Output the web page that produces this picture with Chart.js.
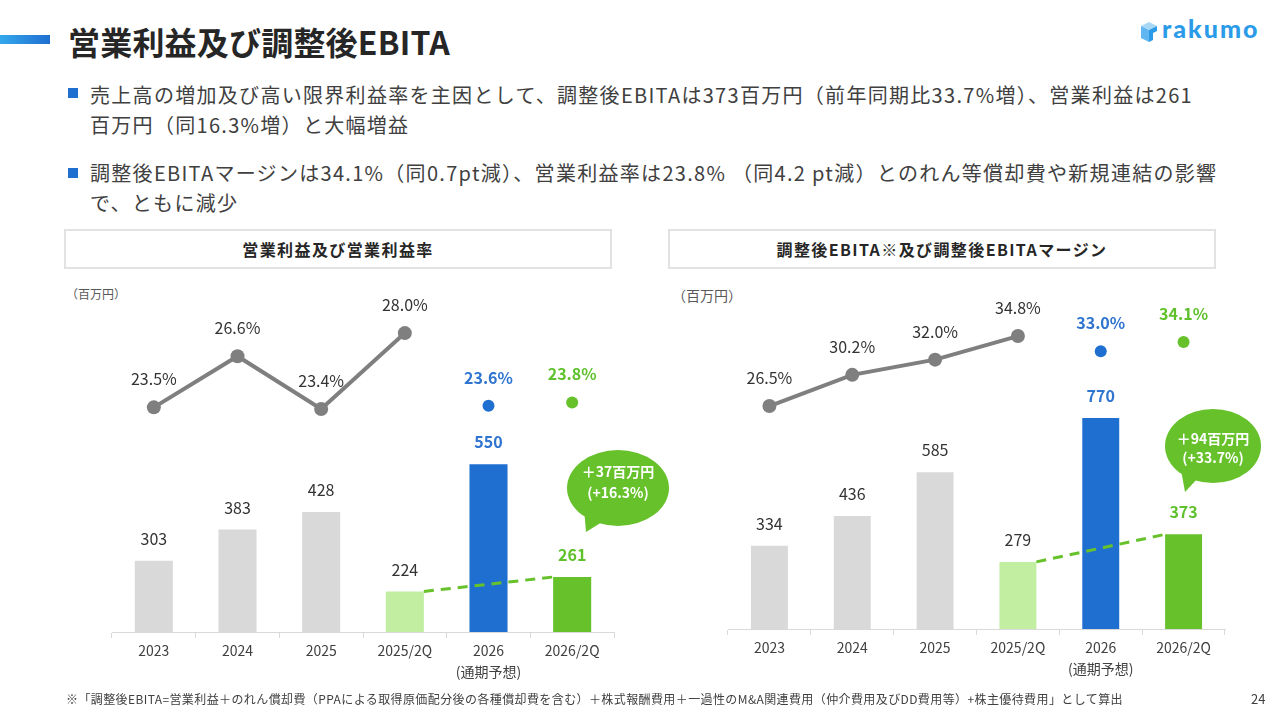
<!DOCTYPE html>
<html lang="ja">
<head>
<meta charset="utf-8">
<script src="https://cdn.jsdelivr.net/npm/chart.js@4.4.1/dist/chart.umd.min.js"></script>
<style>
  html, body { margin: 0; padding: 0; }
  body { width: 1280px; height: 720px; position: relative; background: #fff; overflow: hidden;
         font-family: "Noto Sans CJK JP", "Noto Sans", sans-serif; color: #333; }
  .abs { position: absolute; }
  #titleBar { left: 0; top: 35px; width: 50px; height: 9px; background: linear-gradient(90deg, #34a8ec, #1f6fd0); }
  #title { left: 68px; top: 23px; font-size: 32px; line-height: 36px; font-weight: bold; color: #262626; white-space: nowrap; letter-spacing: 0.2px; }
  #logo { left: 1139px; top: 19px; height: 28px; }
  #logoText { left: 1162px; top: 13px; font-family: Lato, "Open Sans", sans-serif; font-weight: 900; font-size: 25px; color: #2a9be8; letter-spacing: 2px; }
  .bullet { left: 68px; width: 10px; height: 10px; background: #1f6fd0; }
  .btext { left: 90px; font-size: 20px; line-height: 30px; color: #404040; white-space: nowrap; letter-spacing: 1.3px; }
  .box { top: 229px; height: 36px; width: 544px; border: 2px solid #e2e2e2; box-sizing: content-box;
         text-align: center; font-weight: bold; font-size: 16px; line-height: 36px; color: #262626; letter-spacing: 1.4px; }
  .unit { font-size: 12px; color: #595959; top: 285px; }
  canvas { position: absolute; }
  #note { left: 66px; top: 690px; font-size: 12px; color: #404040; white-space: nowrap; letter-spacing: 0.4px; }
  #page { left: 1251px; top: 689px; font-size: 13px; color: #404040; }
</style>
</head>
<body>
<div id="titleBar" class="abs"></div>
<div id="title" class="abs">営業利益及び調整後EBITA</div>
<svg id="logo" class="abs" width="20" height="26" viewBox="0 0 20 26">
  <polygon points="2,6 10,2 18,6 10,10" fill="#a9d8f7"/>
  <polygon points="2,6 10,10 10,22 2,18" fill="#5fb6f0"/>
  <polygon points="10,10 18,6 18,11 14,13 14,20 10,22" fill="#2a9be8"/>
</svg>
<div id="logoText" class="abs">rakumo</div>

<div class="abs bullet" style="top:88px"></div>
<div class="abs btext" style="top:80px">売上高の増加及び高い限界利益率を主因として、調整後EBITAは373百万円（前年同期比33.7%増）、営業利益は261<br>百万円（同16.3%増）と大幅増益</div>
<div class="abs bullet" style="top:168px"></div>
<div class="abs btext" style="top:158px">調整後EBITAマージンは34.1%（同0.7pt減）、営業利益率は23.8% （同4.2 pt減）とのれん等償却費や新規連結の影響<br>で、ともに減少</div>

<div class="abs box" style="left:64px">営業利益及び営業利益率</div>
<div class="abs box" style="left:668px">調整後EBITA※及び調整後EBITAマージン</div>
<div class="abs unit" style="left:66px">（百万円）</div>
<div class="abs unit" style="left:672px; font-size:14px; top:285px">（百万円）</div>

<canvas id="c1" width="580" height="400" style="left:60px; top:280px; width:580px; height:400px"></canvas>
<canvas id="c2" width="580" height="400" style="left:660px; top:280px; width:580px; height:400px"></canvas>

<svg class="abs" style="left:0; top:0" width="1280" height="720" pointer-events="none">
  <g>
    <ellipse cx="618" cy="488" rx="51" ry="38" fill="#66c12b"/>
    <polygon points="584,508 602,522 586,532" fill="#66c12b"/>
    <text x="618" y="477" fill="#fff" font-size="14" font-weight="bold" text-anchor="middle" font-family="Noto Sans CJK JP">＋37百万円</text>
    <text x="618" y="498" fill="#fff" font-size="14" font-weight="bold" text-anchor="middle" font-family="Noto Sans CJK JP">(+16.3%)</text>
  </g>
  <g>
    <ellipse cx="1213" cy="446" rx="48" ry="37" fill="#66c12b"/>
    <polygon points="1180,464 1198,478 1185,492" fill="#66c12b"/>
    <text x="1213" y="444" fill="#fff" font-size="14" font-weight="bold" text-anchor="middle" font-family="Noto Sans CJK JP">＋94百万円</text>
    <text x="1213" y="463" fill="#fff" font-size="14" font-weight="bold" text-anchor="middle" font-family="Noto Sans CJK JP">(+33.7%)</text>
  </g>
</svg>

<div id="note" class="abs">※「調整後EBITA=営業利益＋のれん償却費（PPAによる取得原価配分後の各種償却費を含む）＋株式報酬費用＋一過性のM&amp;A関連費用（仲介費用及びDD費用等）+株主優待費用」として算出</div>
<div id="page" class="abs">24</div>

<script>
const categories = ['2023', '2024', '2025', '2025/2Q', ['2026', '(通期予想)'], '2026/2Q'];

// 営業利益（百万円）と営業利益率（%）
const opProfit = [303, 383, 428, 224, 550, 261];
const opMarginActual = [23.5, 26.6, 23.4, 28.0, null, null];
const opMarginForecast = [null, null, null, null, 23.6, null];
const opMarginQuarter = [null, null, null, null, null, 23.8];

// 調整後EBITA（百万円）と調整後EBITAマージン（%）
const ebita = [334, 436, 585, 279, 770, 373];
const ebitaMarginActual = [26.5, 30.2, 32.0, 34.8, null, null];
const ebitaMarginForecast = [null, null, null, null, 33.0, null];
const ebitaMarginQuarter = [null, null, null, null, null, 34.1];

const GRAY = '#d9d9d9';
const LIGHT_GREEN = '#c2eea1';
const BLUE = '#1f6fd0';
const GREEN = '#66c12b';
const LINE_GRAY = '#7f7f7f';
const TEXT = '#333333';
const BLUE_TEXT = '#2f74cf';
const GREEN_TEXT = '#5ec12c';
const FONT = '"Noto Sans CJK JP", "Noto Sans", sans-serif';

const barColors = [GRAY, GRAY, GRAY, LIGHT_GREEN, BLUE, GREEN];
const barLabelColors = [TEXT, TEXT, TEXT, TEXT, BLUE_TEXT, GREEN_TEXT];
const barLabelBold = [false, false, false, false, true, true];

// 値ラベル
const valueLabels = {
    id: 'valueLabels',
    afterDatasetsDraw(chart) {
        const ctx = chart.ctx;
        chart.data.datasets.forEach((ds, i) => {
            const meta = chart.getDatasetMeta(i);
            ds.data.forEach((v, j) => {
                if (v === null) return;
                const el = meta.data[j];
                const color = Array.isArray(ds.labelColor) ? ds.labelColor[j] : ds.labelColor;
                const bold = Array.isArray(ds.labelBold) ? ds.labelBold[j] : ds.labelBold;
                const txt = ds.type === 'line' ? v.toFixed(1) + '%' : String(v);
                ctx.save();
                ctx.font = (bold ? 'bold ' : '') + '16px ' + FONT;
                ctx.fillStyle = color;
                ctx.textAlign = 'center';
                ctx.textBaseline = 'middle';
                ctx.fillText(txt, el.x, el.y - ds.labelOffset);
                ctx.restore();
            });
        });
    }
};

// 2Q同士を結ぶ破線
const trendLine = {
    id: 'trendLine',
    afterDatasetsDraw(chart) {
        const meta = chart.getDatasetMeta(chart.data.datasets.findIndex(d => d.type === 'bar'));
        const a = meta.data[3], b = meta.data[5];
        const ctx = chart.ctx;
        ctx.save();
        ctx.strokeStyle = GREEN;
        ctx.lineWidth = 3;
        ctx.setLineDash([10, 7]);
        ctx.beginPath();
        ctx.moveTo(a.x + a.width / 2, a.y);
        ctx.lineTo(b.x - b.width / 2, b.y);
        ctx.stroke();
        ctx.restore();
    }
};

function diagram(id, bars, actual, forecast, quarter, opt) {
    return new Chart(document.getElementById(id), {
        data: {
            labels: categories,
            datasets: [
                {
                    type: 'line', data: actual, yAxisID: 'yp', order: 0,
                    borderColor: LINE_GRAY, borderWidth: 4, spanGaps: false,
                    pointRadius: 7, pointBackgroundColor: LINE_GRAY, pointBorderWidth: 0,
                    labelColor: TEXT, labelBold: false, labelOffset: 28
                },
                {
                    type: 'line', data: forecast, yAxisID: 'yp', order: 0, showLine: false,
                    pointRadius: 6, pointBackgroundColor: BLUE, pointBorderWidth: 0,
                    labelColor: BLUE_TEXT, labelBold: true, labelOffset: 28
                },
                {
                    type: 'line', data: quarter, yAxisID: 'yp', order: 0, showLine: false,
                    pointRadius: 6, pointBackgroundColor: GREEN, pointBorderWidth: 0,
                    labelColor: GREEN_TEXT, labelBold: true, labelOffset: 28
                },
                {
                    type: 'bar', data: bars, yAxisID: 'yb', order: 1,
                    backgroundColor: barColors, borderWidth: 0,
                    barPercentage: opt.barPct, categoryPercentage: 1,
                    labelColor: barLabelColors, labelBold: barLabelBold, labelOffset: 22
                }
            ]
        },
        options: {
            responsive: false,
            animation: false,
            layout: { autoPadding: false, padding: { left: opt.padLeft, right: opt.padRight, top: 0, bottom: 0 } },
            plugins: { legend: { display: false }, tooltip: { enabled: false } },
            scales: {
                x: {
                    afterFit: scale => { scale.height = opt.axisHeight; },
                    border: { display: true, color: '#d9d9d9', width: 1 },
                    grid: { display: true, drawOnChartArea: false, drawTicks: true, tickLength: 6, color: '#d9d9d9', offset: true },
                    ticks: { color: '#404040', font: { size: 14, family: FONT, lineHeight: 1.45 }, padding: 3, maxRotation: 0, autoSkip: false }
                },
                yb: { display: false, min: opt.barMin, max: opt.barMax },
                yp: { display: false, min: opt.pctMin, max: opt.pctMax }
            }
        },
        plugins: [valueLabels, trendLine]
    });
}

diagram('c1', opProfit, opMarginActual, opMarginForecast, opMarginQuarter, {
    padLeft: 52, padRight: 26, axisHeight: 48, barPct: 0.455,
    barMin: 120, barMax: 1022.6, pctMin: 9.885, pctMax: 31.218
});
diagram('c2', ebita, ebitaMarginActual, ebitaMarginForecast, ebitaMarginQuarter, {
    padLeft: 68, padRight: 15, axisHeight: 51, barPct: 0.446,
    barMin: 50, barMax: 1241, pctMin: 0.05, pctMax: 41.45
});
</script>
</body>
</html>
